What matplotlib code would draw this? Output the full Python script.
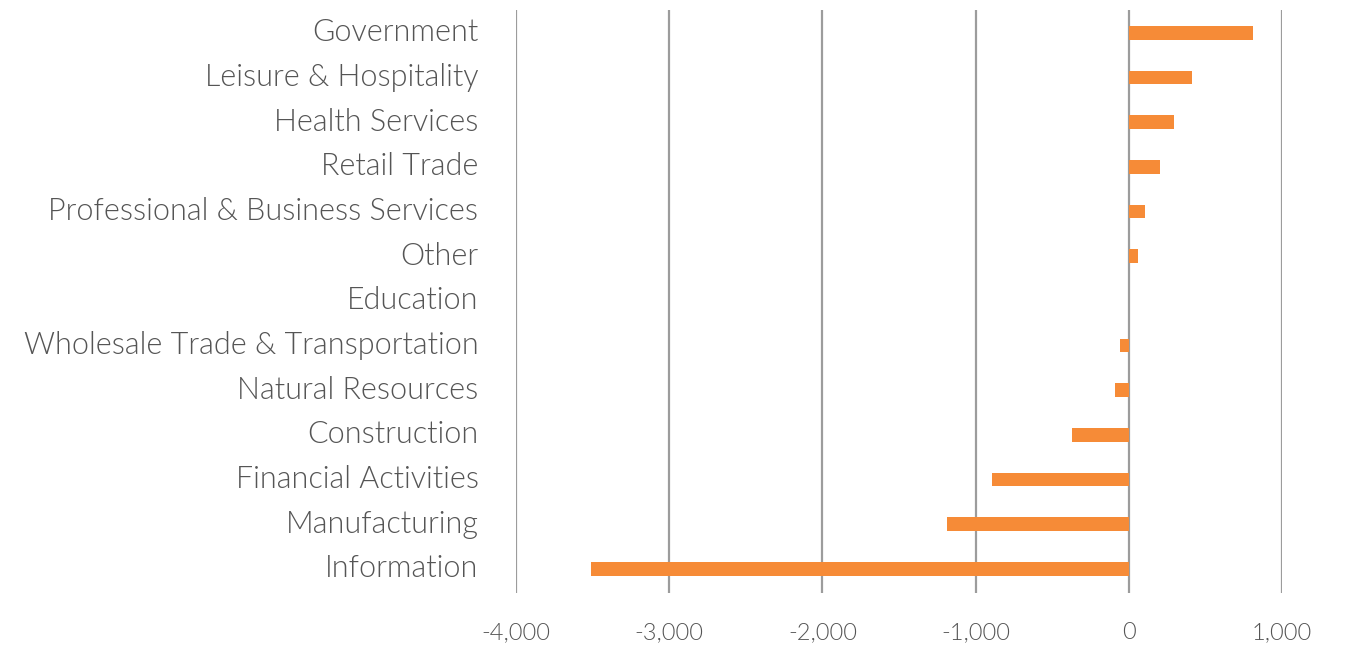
import numpy as np
import matplotlib.pyplot as plt
import matplotlib.transforms as mtransforms

# Job change by industry (thousands)
industries = [
    "Information", "Manufacturing", "Financial Activities", "Construction",
    "Natural Resources", "Wholesale Trade & Transportation", "Education",
    "Other", "Professional & Business Services", "Retail Trade",
    "Health Services", "Leisure & Hospitality", "Government",
]
change = [-3508, -1185, -890, -373, -92, -59, 0, 59, 105, 203, 295, 412, 812]

x_ticks = [-4000, -3000, -2000, -1000, 0, 1000]

plt.rcParams['font.family'] = ['Lato', 'DejaVu Sans']
text_color = '#555555'

fig = plt.figure(figsize=(13.55, 6.48), dpi=100)
ax = fig.add_axes([516 / 1355, 1 - 593 / 648, (1282 - 516) / 1355, (593 - 10) / 648])

y = np.arange(len(industries))
ax.barh(y, change, height=0.31, color='#F68B37', zorder=3)

ax.set_xlim(-4000, 1000)
ax.set_ylim(-0.54, len(industries) - 1 + 0.51)
ax.set_xticks(x_ticks)
ax.set_xticklabels([f"{v:,}" for v in x_ticks])
ax.set_yticks(y)
ax.set_yticklabels(industries)

ax.grid(axis='x', color='#9c9c9c', linewidth=1.6, zorder=0)
ax.grid(axis='y', visible=False)
for s in ax.spines.values():
    s.set_visible(False)

ax.tick_params(axis='y', length=0, pad=27, labelsize=22, labelcolor=text_color)
ax.tick_params(axis='x', length=0, pad=21, labelsize=17, labelcolor=text_color)

# category labels sit a touch above the bar centres
nudge = mtransforms.ScaledTranslation(0, 3 / 100, fig.dpi_scale_trans)
for lbl in ax.get_yticklabels():
    lbl.set_fontweight(300)
    lbl.set_transform(lbl.get_transform() + nudge)
for lbl in ax.get_xticklabels():
    lbl.set_fontweight(300)

fig.savefig('out.png', dpi=100)
